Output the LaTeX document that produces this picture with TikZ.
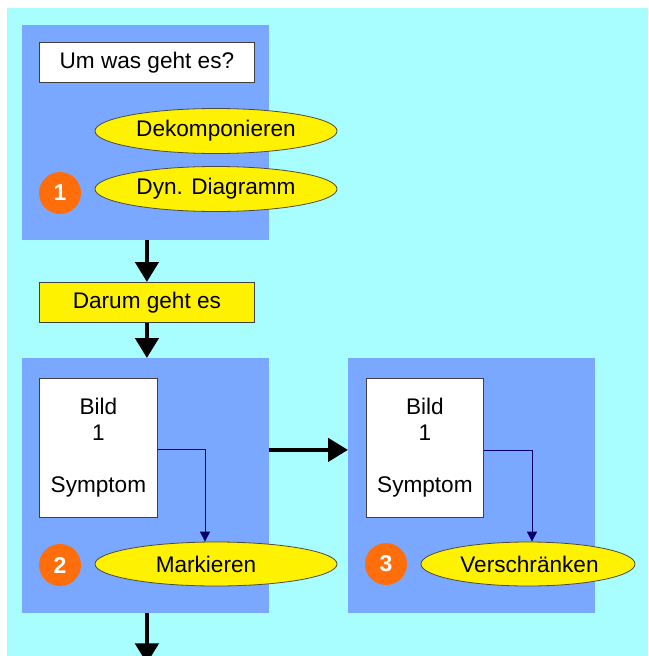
\documentclass[tikz,border=0pt]{standalone}
\usepackage{fontspec}
\setmainfont{Liberation Sans}
\usetikzlibrary{arrows.meta,shapes.geometric}
\definecolor{bgcyan}{HTML}{A8FDFF}
\definecolor{blockblue}{HTML}{7AA7FF}
\definecolor{numorange}{HTML}{FF6E0A}
\definecolor{linkblue}{HTML}{000066}
\definecolor{edgegray}{HTML}{404040}
\tikzset{
  block/.style={fill=blockblue,draw=none,anchor=north west,inner sep=0pt},
  textbox/.style={fill=white,draw=edgegray,line width=0.8pt,anchor=north west,inner sep=0pt,font=\fontsize{22.6}{26}\selectfont},
  yellowbox/.style={textbox,fill=yellow},
  oval/.style={ellipse,fill=yellow,draw=black!80!yellow,line width=0.8pt,inner sep=0pt,minimum height=45pt,font=\fontsize{22.6}{26}\selectfont},
  numcircle/.style={circle,fill=numorange,draw=none,minimum size=42pt,inner sep=0pt,text=white,font=\fontsize{23}{26}\selectfont\bfseries},
  bigarrow/.style={line width=4.5pt,-{Triangle[length=20pt,width=23pt]}},
  link/.style={draw=linkblue,line width=1pt,-{Triangle[length=10pt,width=10pt]}},
}
\begin{document}
\begin{tikzpicture}[x=1pt,y=-1pt]
\useasboundingbox (0,0) rectangle (648,656);
\clip (0,0) rectangle (648,656);
\fill[white] (0,0) rectangle (648,656);
\fill[bgcyan] (7,8) rectangle (648,656);
% blocks
\node[block,minimum width=247pt,minimum height=215pt] (block1) at (22,25) {};
\node[block,minimum width=247pt,minimum height=255pt] (block2) at (22,358) {};
\node[block,minimum width=247pt,minimum height=255pt] (block3) at (348,358) {};
% block 1 content
\node[textbox,minimum width=215pt,minimum height=40pt] (um) at (39,42) {Um was geht es?};
\node[oval,minimum width=242pt] (dek) at (216,131) {Dekomponieren};
\node[oval,minimum width=242pt] (dyn) at (216,189) {Dyn. Diagramm};
\node[numcircle] (n1) at (60,193) {1};
% Darum
\node[yellowbox,minimum width=215pt,minimum height=40pt] (darum) at (39,282) {Darum geht es};
% block 2 content
\node[textbox,minimum width=118pt,minimum height=139pt,align=center] (bild2) at (39,378) {Bild\\1\\[26pt]Symptom};
\node[oval,minimum width=242pt,minimum height=44pt] (mark) at (216,564) {Markieren\kern20pt\relax};
\node[numcircle] (n2) at (60,565) {2};
% block 3 content
\node[textbox,minimum width=117pt,minimum height=139pt,align=center] (bild3) at (366,378) {Bild\\1\\[26pt]Symptom};
\node[oval,minimum width=214pt,minimum height=44pt] (versch) at (528,564) {\hspace{3pt}Verschränken};
\node[numcircle] (n3) at (386,564) {3};
% connectors
\draw[bigarrow] (block1.south -| darum.north) -- (darum.north);
\draw[bigarrow] (darum.south) -- (block2.north -| darum.south);
\coordinate (bottomend) at ([yshift=-50pt]block2.south -| darum.south);
\draw[bigarrow] (block2.south -| darum.south) -- (bottomend);
\draw[bigarrow] ([yshift=-2pt]block2.east |- bild2.east) -- ([yshift=-2pt]block3.west |- bild2.east);
\draw[link] ([yshift=-1.5pt]bild2.east) -| ([xshift=-11pt]mark.north);
\draw[link] ([yshift=-3pt]bild3.east) -| ([xshift=4pt]versch.north);
\end{tikzpicture}
\end{document}
